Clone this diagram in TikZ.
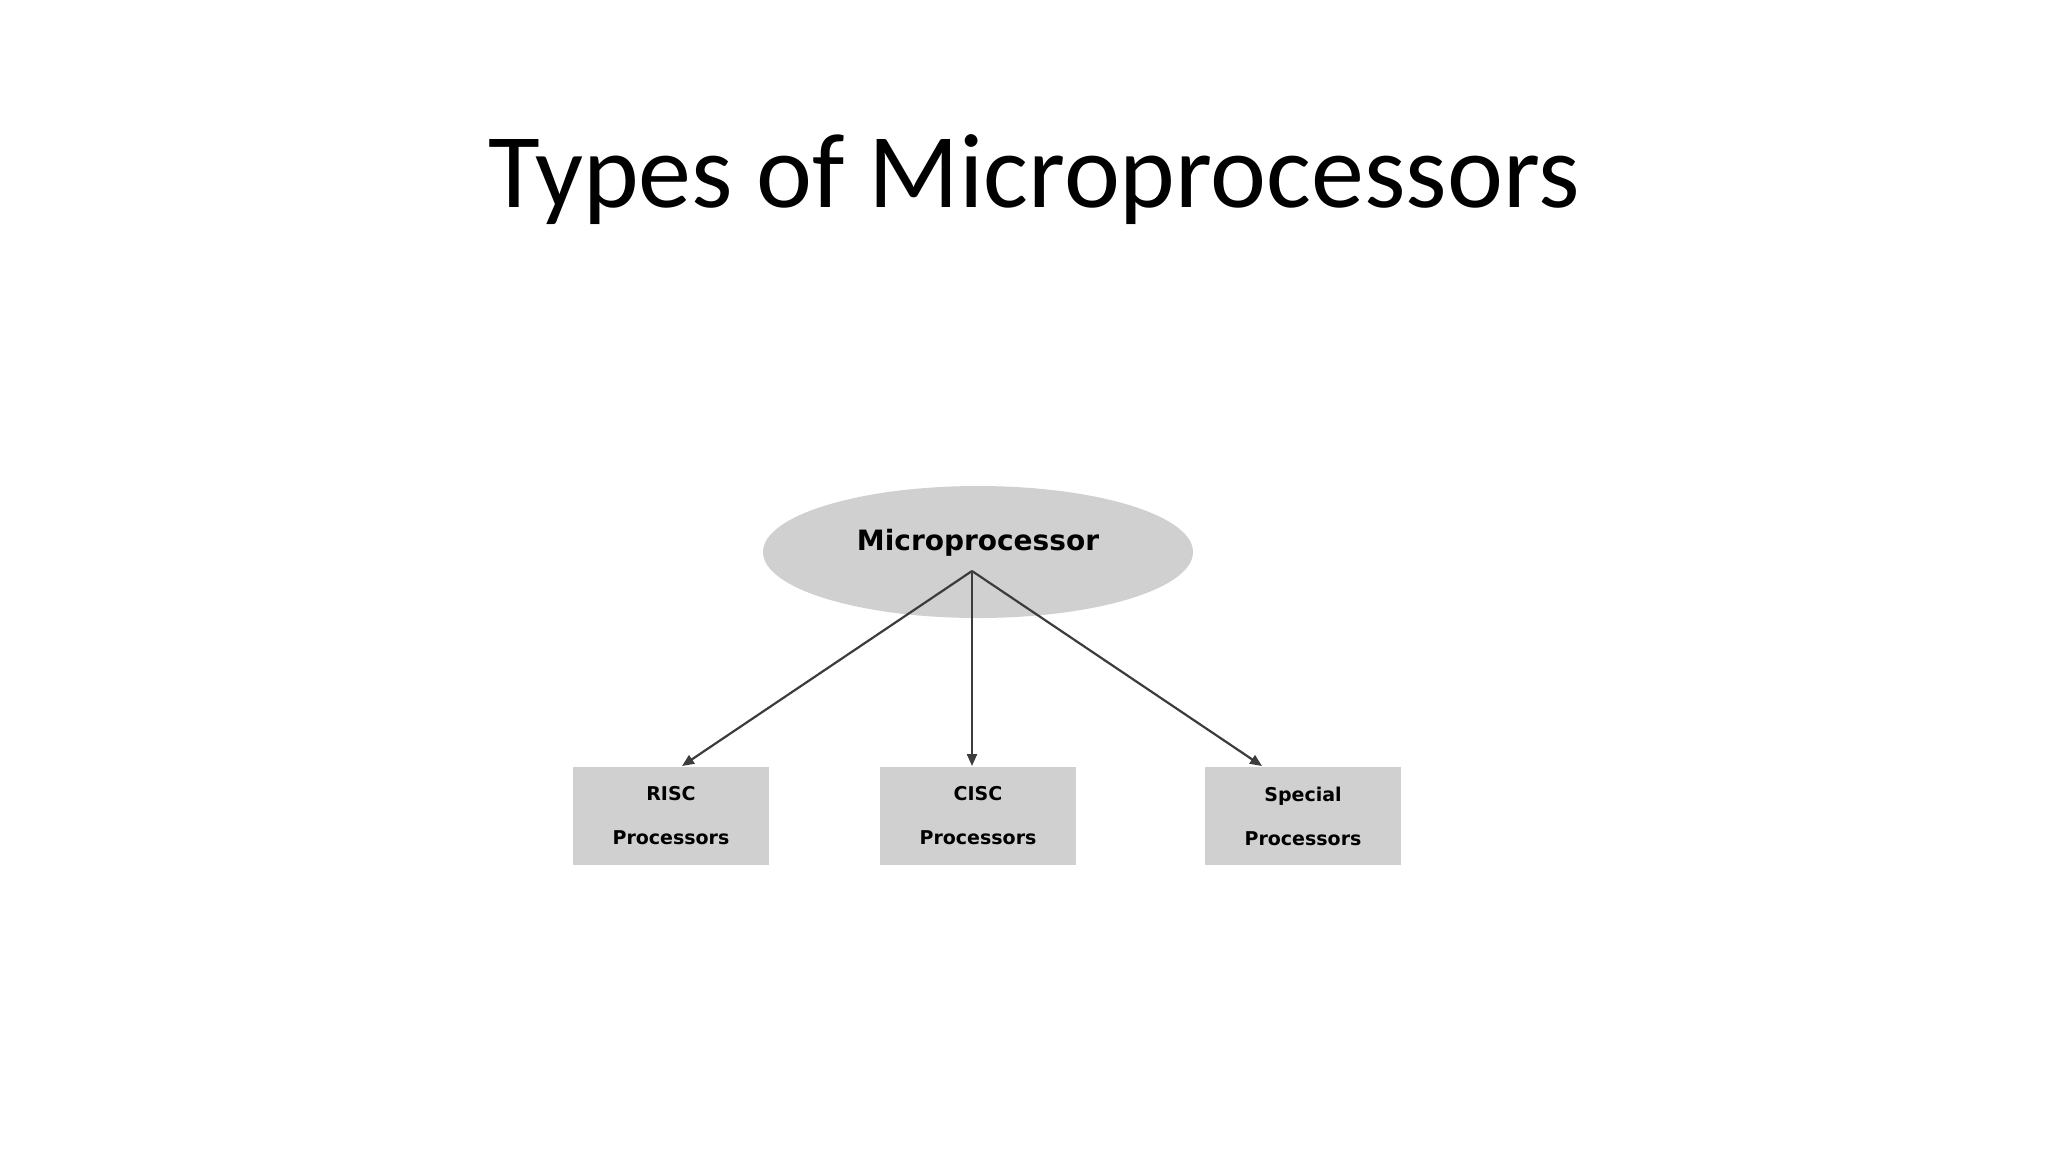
\documentclass[tikz,border=0pt]{standalone}
\usepackage{fontspec}
\setmainfont{Carlito}
\newfontfamily\vfont{DejaVu Sans}
\usetikzlibrary{shapes.geometric,arrows.meta}
\definecolor{fillg}{RGB}{208,208,208}
\definecolor{linec}{RGB}{60,60,60}
\tikzset{
  boxn/.style={fill=fillg, minimum width=98pt, minimum height=49pt, inner sep=0pt, align=center, font=\vfont\bfseries\fontsize{9.5}{22}\selectfont},
  arr/.style={draw=linec, line width=1.1pt, -{Triangle[length=6pt,width=5pt]}}
}
\begin{document}
\begin{tikzpicture}[x=0.5pt,y=-0.5pt]
\useasboundingbox (0,0) rectangle (2048,1152);
\node[font=\fontsize{53}{60}\selectfont\addfontfeature{}, anchor=base] (title) at (1034,207) {Types of Microprocessors};
\node[ellipse, fill=fillg, minimum width=215pt, minimum height=66pt, inner sep=0pt] (mp) at (978,552) {};
\node[font=\vfont\bfseries\fontsize{14}{16}\selectfont] (mpt) at (978,543) {Microprocessor};
\coordinate (o) at (972,571);
\node[boxn] (risc) at (671,816) {RISC\\Processors};
\node[boxn] (cisc) at (978,816) {CISC\\Processors};
\node[boxn] (spec) at (1303,816) {Special\\Processors};
\draw[arr] (o) -- (682,766) coordinate (a1);
\draw[arr] (o) -- (972,766);
\draw[arr] (o) -- (1262,766);
\end{tikzpicture}
\end{document}
